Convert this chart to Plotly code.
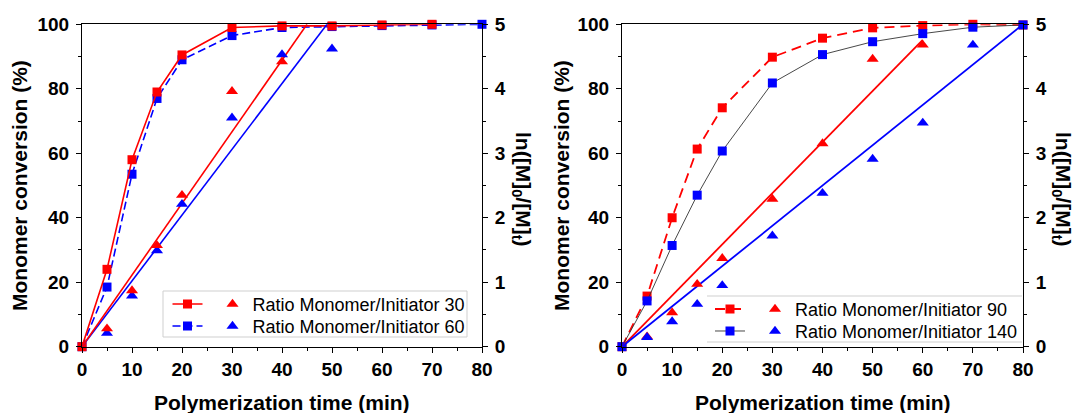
import plotly.graph_objects as go

W, H = 1075, 413

# ---------------- data: left panel (ratios 30 and 60) ----------------
time_30 = [0, 5, 10, 15, 20, 30, 40, 50, 60, 70]
conv_30 = [0, 24, 58, 79, 90.5, 99, 99.5, 99.5, 99.8, 100]
time_60 = [0, 5, 10, 15, 20, 30, 40, 50, 60, 70, 80]
conv_60 = [0, 18.5, 53.5, 77, 89, 96.5, 99, 99.3, 99.6, 99.8, 100]
ln_time_30 = [5, 10, 15, 20, 30, 40]
ln_30 = [0.28, 0.87, 1.57, 2.35, 3.96, 4.42]
ln_time_60 = [5, 10, 15, 20, 30, 40, 50]
ln_60 = [0.21, 0.79, 1.49, 2.21, 3.55, 4.53, 4.62]
fit_time_30 = [0, 45]
fit_30 = [0, 5]
fit_time_60 = [0, 49]
fit_60 = [0, 5]

# ---------------- data: right panel (ratios 90 and 140) ----------------
time_90 = [0, 5, 10, 15, 20, 30, 40, 50, 60, 70, 80]
conv_90 = [0, 15.7, 40, 61.3, 74.1, 89.8, 95.7, 98.9, 99.6, 100, 99.8]
time_140 = [0, 5, 10, 15, 20, 30, 40, 50, 60, 70, 80]
conv_140 = [0, 14.2, 31.4, 47, 60.7, 81.8, 90.6, 94.6, 97.1, 99.1, 99.8]
ln_time_90 = [5, 10, 15, 20, 30, 40, 50, 60]
ln_90 = [0.155, 0.53, 0.97, 1.37, 2.29, 3.15, 4.46, 4.68]
ln_time_140 = [5, 10, 15, 20, 30, 40, 50, 60, 70]
ln_140 = [0.145, 0.39, 0.66, 0.95, 1.72, 2.38, 2.91, 3.47, 4.68]
fit_time_90 = [0, 60]
fit_90 = [0, 4.76]
fit_time_140 = [0, 80]
fit_140 = [0, 5.0]

x_ticks = [0, 10, 20, 30, 40, 50, 60, 70, 80]
conv_ticks = [0, 20, 40, 60, 80, 100]
ln_ticks = [0, 1, 2, 3, 4, 5]

names = ["Ratio Monomer/Initiator 30", "Ratio Monomer/Initiator 60",
         "Ratio Monomer/Initiator 90", "Ratio Monomer/Initiator 140"]

RED = "#ff0000"
BLUE = "#0000ff"
FONT = "Liberation Sans, Arial, sans-serif"

def px_x(p):
    return p / W

def px_y(p):
    return 1 - p / H

fig = go.Figure()

SQ = 9
TRI = 10.5

# ----- left panel -----
fig.add_trace(go.Scatter(x=time_60, y=conv_60, mode="lines+markers", xaxis="x", yaxis="y",
                         line=dict(color=BLUE, width=1.6, dash="8px,4px"),
                         marker=dict(symbol="square", size=SQ, color=BLUE),
                         name="", legend="legend2", cliponaxis=False))
fig.add_trace(go.Scatter(x=time_30, y=conv_30, mode="lines+markers", xaxis="x", yaxis="y",
                         line=dict(color=RED, width=1.6),
                         marker=dict(symbol="square", size=SQ, color=RED),
                         name="", legend="legend", cliponaxis=False))
fig.add_trace(go.Scatter(x=fit_time_60, y=fit_60, mode="lines", xaxis="x", yaxis="y2",
                         line=dict(color=BLUE, width=1.6), showlegend=False, cliponaxis=False))
fig.add_trace(go.Scatter(x=fit_time_30, y=fit_30, mode="lines", xaxis="x", yaxis="y2",
                         line=dict(color=RED, width=1.6), showlegend=False, cliponaxis=False))
fig.add_trace(go.Scatter(x=ln_time_60, y=ln_60, mode="markers", xaxis="x", yaxis="y2",
                         marker=dict(symbol="triangle-up", size=TRI, color=BLUE),
                         name=names[1], legend="legend2", cliponaxis=False))
fig.add_trace(go.Scatter(x=ln_time_30, y=ln_30, mode="markers", xaxis="x", yaxis="y2",
                         marker=dict(symbol="triangle-up", size=TRI, color=RED),
                         name=names[0], legend="legend", cliponaxis=False))

# ----- right panel -----
fig.add_trace(go.Scatter(x=time_90, y=conv_90, mode="lines+markers", xaxis="x2", yaxis="y3",
                         line=dict(color=RED, width=1.8, dash="10px,6px"),
                         marker=dict(symbol="square", size=SQ, color=RED),
                         name="", legend="legend3", cliponaxis=False))
fig.add_trace(go.Scatter(x=time_140, y=conv_140, mode="lines+markers", xaxis="x2", yaxis="y3",
                         line=dict(color="#333333", width=0.9),
                         marker=dict(symbol="square", size=SQ, color=BLUE),
                         name="", legend="legend4", cliponaxis=False))
fig.add_trace(go.Scatter(x=fit_time_90, y=fit_90, mode="lines", xaxis="x2", yaxis="y4",
                         line=dict(color=RED, width=1.8), showlegend=False, cliponaxis=False))
fig.add_trace(go.Scatter(x=fit_time_140, y=fit_140, mode="lines", xaxis="x2", yaxis="y4",
                         line=dict(color=BLUE, width=1.8), showlegend=False, cliponaxis=False))
fig.add_trace(go.Scatter(x=ln_time_90, y=ln_90, mode="markers", xaxis="x2", yaxis="y4",
                         marker=dict(symbol="triangle-up", size=TRI, color=RED),
                         name=names[2], legend="legend3", cliponaxis=False))
fig.add_trace(go.Scatter(x=ln_time_140, y=ln_140, mode="markers", xaxis="x2", yaxis="y4",
                         marker=dict(symbol="triangle-up", size=TRI, color=BLUE),
                         name=names[3], legend="legend4", cliponaxis=False))

tickfont = dict(family=FONT, size=19, color="black", weight="bold")
titlefont = dict(family=FONT, size=21, color="black", weight="bold")

def xaxis_cfg(dom, anchor):
    return dict(domain=dom, anchor=anchor, range=[0, 80], tickvals=x_ticks,
                ticks="outside", ticklen=5, tickwidth=1, tickcolor="black",
                minor=dict(dtick=5, ticks="outside", ticklen=3, tickcolor="black"),
                showline=True, linecolor="black", linewidth=1, mirror=True,
                showgrid=False, zeroline=False, tickfont=tickfont, automargin=False,
                fixedrange=True)

def yaxis_cfg(dom, anchor, rng, vals, minor, side="left", overlaying=None):
    d = dict(domain=dom, anchor=anchor, range=rng, tickvals=vals, side=side,
             ticks="outside", ticklen=5, tickwidth=1, tickcolor="black",
             minor=dict(dtick=minor, ticks="outside", ticklen=3, tickcolor="black"),
             showline=True, linecolor="black", linewidth=1,
             showgrid=False, zeroline=False, tickfont=tickfont, automargin=False,
             ticklabelstandoff=3, fixedrange=True)
    if overlaying:
        d["overlaying"] = overlaying
    return d

ydom = [px_y(346.7), px_y(24.3)]
xdom_l = [px_x(82), px_x(482)]
xdom_r = [px_x(622), px_x(1023)]

legend_common = dict(orientation="h", xanchor="left", yanchor="top", bgcolor="rgba(0,0,0,0)",
                     borderwidth=0, font=dict(family=FONT, size=18, color="black"),
                     itemwidth=30, itemclick=False, itemdoubleclick=False)

def leg(xc, yc):
    # xc: centre of square sample, yc: row centre (px)
    d = dict(legend_common)
    d["x"] = px_x(xc - 20)
    d["y"] = px_y(yc - 18.2)
    return d

fig.update_layout(
    width=W, height=H, template="none",
    paper_bgcolor="white", plot_bgcolor="white",
    margin=dict(l=0, r=0, t=0, b=0, pad=0),
    xaxis=xaxis_cfg(xdom_l, "y"),
    yaxis=yaxis_cfg(ydom, "x", [0, 100], conv_ticks, 10),
    yaxis2=yaxis_cfg(ydom, "x", [0, 5], ln_ticks, 0.5, side="right", overlaying="y"),
    xaxis2=xaxis_cfg(xdom_r, "y3"),
    yaxis3=yaxis_cfg(ydom, "x2", [0, 100], conv_ticks, 10),
    yaxis4=yaxis_cfg(ydom, "x2", [0, 5], ln_ticks, 0.5, side="right", overlaying="y3"),
    legend=leg(187.5, 304),
    legend2=leg(187.5, 326),
    legend3=leg(730, 309),
    legend4=leg(730, 331),
    showlegend=True,
)

# legend frames
fig.add_shape(type="rect", xref="paper", yref="paper",
              x0=px_x(163), x1=px_x(467), y0=px_y(337), y1=px_y(291),
              line=dict(color="#cfcfcf", width=1), fillcolor="rgba(0,0,0,0)", layer="below")
for yy in (296, 342):
    fig.add_shape(type="line", xref="paper", yref="paper",
                  x0=px_x(707), x1=px_x(1022), y0=px_y(yy), y1=px_y(yy),
                  line=dict(color="#cfcfcf", width=1), layer="below")

# axis titles
for xc, yc, txt, ang in [
    (282, 402, "Polymerization time (min)", 0),
    (822.5, 402, "Polymerization time (min)", 0),
    (19, 186, "Monomer conversion (%)", -90),
    (561, 186, "Monomer conversion (%)", -90),
    (522, 189, "ln([M]<sub>0</sub>/[M]<sub>t</sub>)", 90),
    (1062, 189, "ln([M]<sub>0</sub>/[M]<sub>t</sub>)", 90),
]:
    fig.add_annotation(x=px_x(xc), y=px_y(yc), xref="paper", yref="paper", text=txt,
                       showarrow=False, textangle=ang, font=titlefont,
                       xanchor="center", yanchor="middle")

fig.write_html("out.html", config={"displayModeBar": False},
               post_script="document.body.style.margin='0';document.body.style.overflow='hidden';")
